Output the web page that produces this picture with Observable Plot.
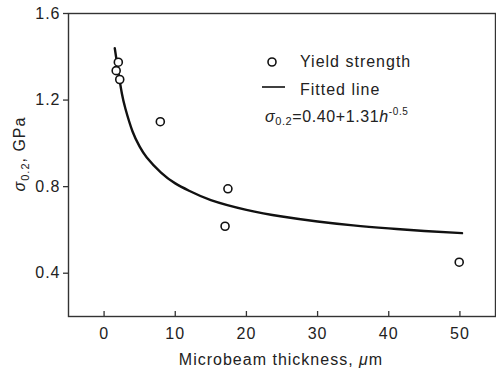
<!DOCTYPE html>
<html>
<head>
<meta charset="utf-8">
<script src="https://cdn.jsdelivr.net/npm/d3@7"></script>
<script src="https://cdn.jsdelivr.net/npm/@observablehq/plot@0.6"></script>
<style>
  html, body { margin: 0; padding: 0; background: #fff; }
  #chart svg { display: block; }
</style>
</head>
<body>
<div id="chart"></div>
<script>
// Measured yield strength (points)
const thickness = [1.7, 2.0, 2.2, 7.9, 17.0, 17.4, 49.9];
const strength  = [1.336, 1.375, 1.295, 1.10, 0.617, 0.79, 0.451];

// Fitted line
const fitH = [1.5, 2, 2.5, 3, 4, 5, 6, 8, 10, 12, 15, 20, 25, 30, 35, 40, 45, 50.3];
const fitS = [1.44, 1.33, 1.23, 1.16, 1.055, 0.985, 0.935, 0.865, 0.815, 0.78, 0.738, 0.693, 0.662, 0.639, 0.621, 0.607, 0.595, 0.585];

const xTicks = [0, 10, 20, 30, 40, 50];
const yTicks = [0.4, 0.8, 1.2, 1.6];

const points = thickness.map((h, i) => ({h, s: strength[i]}));
const fit = fitH.map((h, i) => ({h, s: fitS[i]}));

const font = "'Liberation Sans', Arial, Helvetica, sans-serif";

const plot = Plot.plot({
  width: 496,
  height: 373,
  marginLeft: 68,
  marginRight: 1,
  marginTop: 13,
  marginBottom: 57,
  style: {fontFamily: font, fontSize: "16px", color: "#222", background: "#fff", letterSpacing: "1px"},
  x: {domain: [-5, 55]},
  y: {domain: [0.2, 1.6]},
  marks: [
    Plot.frame({stroke: "#333", strokeWidth: 1.4}),
    Plot.axisY(yTicks, {tickSize: 5, tickPadding: 3, label: null, tickFormat: d3.format(".1f"), stroke: "#333", strokeWidth: 1.3}),
    Plot.axisX(xTicks, {tickSize: -5, tickPadding: 16, label: null, stroke: "#333", strokeWidth: 1.3}),
    Plot.line(fit, {x: "h", y: "s", stroke: "#111", strokeWidth: 2.4, curve: "natural"}),
    Plot.dot(points, {x: "h", y: "s", r: 4, stroke: "#111", strokeWidth: 1.6, fill: "#fff"})
  ]
});

document.getElementById("chart").appendChild(plot);

const svg = d3.select(plot);
const g = svg.append("g")
  .attr("font-family", font)
  .attr("font-size", 16)
  .attr("fill", "#222")
  .attr("text-anchor", "start")
  .style("letter-spacing", "1px");

// x-axis label
g.append("text")
  .attr("x", 281).attr("y", 365)
  .attr("text-anchor", "middle")
  .call(t => {
    t.append("tspan").text("Microbeam thickness, ");
    t.append("tspan").attr("font-style", "italic").text("μ");
    t.append("tspan").text("m");
  });

// y-axis label
g.append("text")
  .attr("transform", "translate(25,154) rotate(-90)")
  .attr("text-anchor", "middle")
  .call(t => {
    t.append("tspan").attr("font-style", "italic").text("σ");
    t.append("tspan").attr("font-size", 11).attr("dy", 4).text("0.2");
    t.append("tspan").attr("dy", -4).text(", GPa");
  });

// legend
g.append("circle")
  .attr("cx", 272).attr("cy", 62).attr("r", 4)
  .attr("fill", "#fff").attr("stroke", "#111").attr("stroke-width", 1.6);
g.append("text").attr("x", 300).attr("y", 67).text("Yield strength");
g.append("line")
  .attr("x1", 262).attr("x2", 285).attr("y1", 87).attr("y2", 87)
  .attr("stroke", "#111").attr("stroke-width", 1.6);
g.append("text").attr("x", 300).attr("y", 95).text("Fitted line");

// equation
g.append("text")
  .attr("x", 265).attr("y", 122)
  .style("letter-spacing", "0.6px")
  .call(t => {
    t.append("tspan").attr("font-style", "italic").text("σ");
    t.append("tspan").attr("font-size", 11).attr("dy", 3).text("0.2");
    t.append("tspan").attr("dy", -3).text("=0.40+1.31");
    t.append("tspan").attr("font-style", "italic").text("h");
    t.append("tspan").attr("font-size", 10).attr("dy", -7).text("-0.5");
  });
</script>
</body>
</html>
